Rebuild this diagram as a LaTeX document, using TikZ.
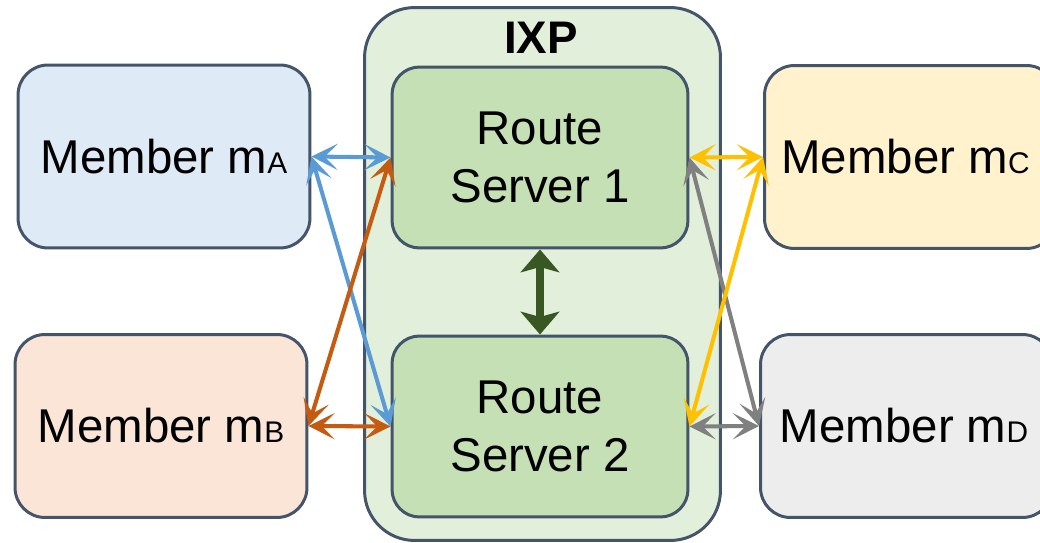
\documentclass[tikz,border=0pt]{standalone}
\usepackage{fontspec}
\setmainfont{Liberation Sans}
\usepackage{tikz}
\usetikzlibrary{arrows.meta,positioning}
\definecolor{edge}{HTML}{44546A}
\definecolor{ixpfill}{HTML}{E2EFDA}
\definecolor{rsfill}{HTML}{C5E0B4}
\definecolor{afill}{HTML}{DEEBF7}
\definecolor{bfill}{HTML}{FBE5D6}
\definecolor{cfill}{HTML}{FFF2CC}
\definecolor{dfill}{HTML}{EDEDED}
\definecolor{linka}{HTML}{5B9BD5}
\definecolor{linkb}{HTML}{C55A11}
\definecolor{linkc}{HTML}{FFC000}
\definecolor{linkd}{HTML}{808080}
\definecolor{linkrs}{HTML}{385723}
\newcommand{\msub}[1]{{\fontsize{17}{20}\selectfont #1}}

\begin{document}
\begin{tikzpicture}[x=0.02cm,y=-0.02cm,
  box/.style={draw=edge,line width=1.7pt,rounded corners=0.6cm,minimum width=5.84cm,minimum height=3.66cm,align=center,font=\fontsize{27}{33}\selectfont},
  rsbox/.style={box,fill=rsfill,minimum width=5.92cm,minimum height=3.62cm,rounded corners=0.55cm},
  link/.style={{Stealth[length=15pt,width=15pt,inset=7.5pt]}-{Stealth[length=15pt,width=15pt,inset=7.5pt]},line width=2.3pt},
  rslink/.style={{Stealth[length=13pt,width=22pt,inset=3pt]}-{Stealth[length=13pt,width=22pt,inset=3pt]},line width=4pt}
]
\useasboundingbox (0,0) rectangle (1040,543);
\node[draw=edge,line width=1.7pt,fill=ixpfill,rounded corners=1cm,minimum width=7.12cm,minimum height=10.66cm] (ixp) at (542.5,274) {};
\node[font=\fontsize{26}{30}\selectfont\bfseries] (ixptitle) at (541,38) {IXP};

\node[rsbox] (rs1) at (540,157.5) {Route\\Server 1};
\node[rsbox] (rs2) at (540,426.5) {Route\\Server 2};

\node[box,fill=afill] (mA) at (164,156.5) {Member m\msub{A}};
\node[box,fill=bfill] (mB) at (161,426) {Member m\msub{B}};
\node[box,fill=cfill,anchor=west] (mC) at (763,157) {\hspace{0.1cm}Member m\msub{C}\hspace{0.3cm}};
\node[box,fill=dfill,anchor=west] (mD) at (759,426) {\hspace{0.1cm}Member m\msub{D}\hspace{0.2cm}};

% member links
\draw[link,linka] (mA.east) -- (rs1.west);
\draw[link,linka] (mA.east) -- (rs2.west);
\draw[link,linkb] (mB.east) -- (rs2.west);
\draw[link,linkb] (mB.east) -- (rs1.west);
\draw[link,linkd] (rs2.east) -- (mD.west);
\draw[link,linkd] (rs1.east) -- (mD.west);
\draw[link,linkc] (rs1.east) -- (mC.west);
\draw[link,linkc] (rs2.east) -- (mC.west);

% route server session
\draw[rslink,linkrs] (rs1.south) -- (rs2.north);
\end{tikzpicture}
\end{document}
